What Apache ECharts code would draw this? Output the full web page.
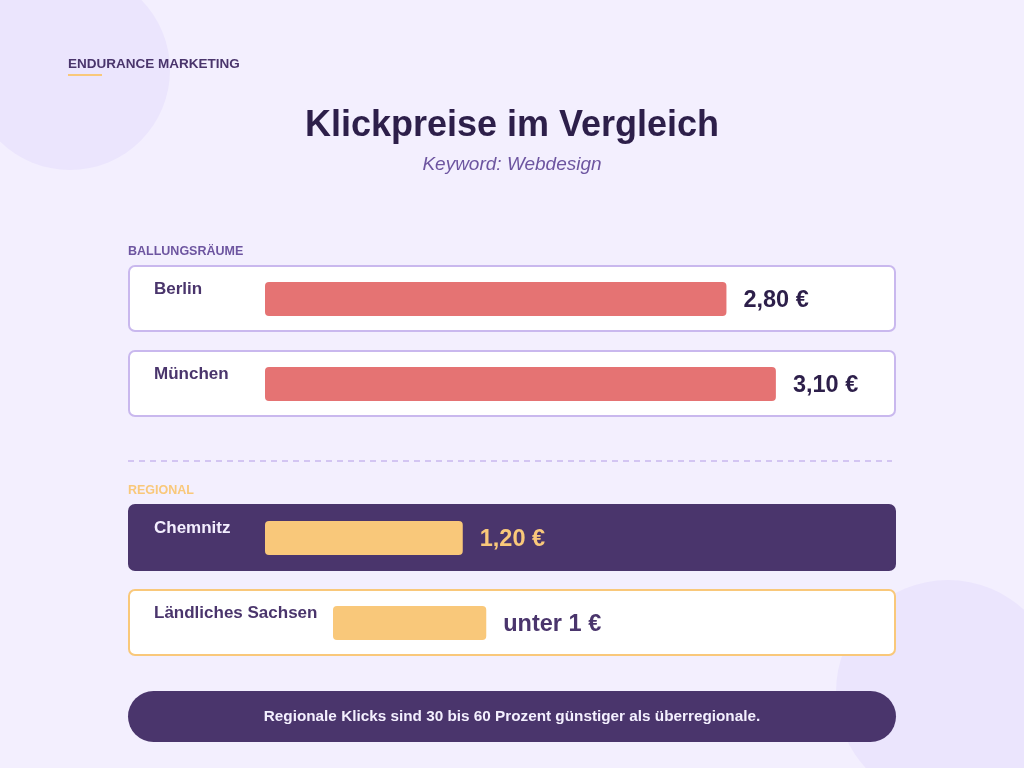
<!DOCTYPE html>
<html>
<head>
<meta charset="UTF-8">
<title>Klickpreise im Vergleich</title>
<script src="https://cdn.jsdelivr.net/npm/echarts@6/dist/echarts.min.js"></script>
<style>
  html, body { margin: 0; padding: 0; background: #f3effe; }
  #chart { width: 1024px; height: 768px; }
</style>
</head>
<body>
<div id="chart"></div>
<script type="text/javascript">
// Daten
var cities = ['Berlin', 'München', 'Chemnitz', 'Ländliches Sachsen'];
var prices = [2.80, 3.10, 1.20, 0.93];          // Euro pro Klick (letzter Wert geschätzt: "unter 1 €")
var priceLabels = ['2,80 €', '3,10 €', '1,20 €', 'unter 1 €'];
var groups = ['metro', 'metro', 'regional', 'regional'];

// Layout
var cardTop = [265, 350, 504, 589];
var barLeft = [265, 265, 265, 333];
var cardH = 67;
var barH = 34;
var scaleMax = 4;
var pxPerEuro = 164.8;

var purple = '#4a356c';
var dark = '#2d1f4a';
var red = '#e57373';
var yellow = '#f9c87a';
var lilac = '#c9b8ee';
var font = 'Liberation Sans, Arial, sans-serif';

var chart = echarts.init(document.getElementById('chart'));

var grids = [], xAxes = [], yAxes = [], series = [];
var graphics = [
  { type: 'circle', shape: { cx: 70, cy: 70, r: 100 }, style: { fill: '#ebe5fd' }, z: -20 },
  { type: 'circle', shape: { cx: 948, cy: 692, r: 112 }, style: { fill: '#ebe5fd' }, z: -20 },
  { type: 'text', z: 10, style: { x: 68, y: 64, text: 'ENDURANCE MARKETING', fill: purple,
      font: 'bold 13.5px ' + font, textVerticalAlign: 'middle' } },
  { type: 'rect', z: 10, shape: { x: 68, y: 74, width: 34, height: 2 }, style: { fill: yellow } },
  { type: 'text', z: 10, style: { x: 512, y: 126, text: 'Klickpreise im Vergleich', fill: dark,
      font: 'bold 36px ' + font, textAlign: 'center', textVerticalAlign: 'middle' } },
  { type: 'text', z: 10, style: { x: 512, y: 165, text: 'Keyword: Webdesign', fill: '#6d55a0',
      font: 'italic 19px ' + font, textAlign: 'center', textVerticalAlign: 'middle' } },
  { type: 'text', z: 10, style: { x: 128, y: 252, text: 'BALLUNGSRÄUME', fill: '#6d55a0',
      font: 'bold 12.5px ' + font, textVerticalAlign: 'middle' } },
  { type: 'line', z: 10, shape: { x1: 128, y1: 461, x2: 892, y2: 461 },
      style: { stroke: lilac, lineWidth: 1.5, lineDash: [6, 5] } },
  { type: 'text', z: 10, style: { x: 128, y: 491, text: 'REGIONAL', fill: yellow,
      font: 'bold 12.5px ' + font, textVerticalAlign: 'middle' } },
  { type: 'rect', z: -5, shape: { x: 128, y: 691, width: 768, height: 51, r: 25.5 }, style: { fill: purple } },
  { type: 'text', z: 10, style: { x: 512, y: 717, text: 'Regionale Klicks sind 30 bis 60 Prozent günstiger als überregionale.',
      fill: '#f3effe', font: 'bold 15.3px ' + font, textAlign: 'center', textVerticalAlign: 'middle' } }
];

cities.forEach(function (name, i) {
  var highlight = name === 'Chemnitz';
  var regional = groups[i] === 'regional';
  graphics.push({
    type: 'rect', z: -5,
    shape: { x: 129, y: cardTop[i] + 1, width: 766, height: cardH - 2, r: 6 },
    style: {
      fill: highlight ? purple : '#ffffff',
      stroke: highlight ? purple : (regional ? yellow : lilac),
      lineWidth: 2
    }
  });
  graphics.push({
    type: 'text', z: 10,
    style: { x: 154, y: cardTop[i] + 24, text: name, fill: highlight ? '#f3eefe' : purple,
      font: 'bold 17px ' + font, textVerticalAlign: 'middle' }
  });

  grids.push({ left: barLeft[i], top: cardTop[i] + 17, width: scaleMax * pxPerEuro, height: barH });
  xAxes.push({ type: 'value', gridIndex: i, min: 0, max: scaleMax, show: false });
  yAxes.push({ type: 'category', gridIndex: i, data: [name], show: false });
  series.push({
    type: 'bar',
    xAxisIndex: i,
    yAxisIndex: i,
    barWidth: barH,
    data: [prices[i]],
    itemStyle: { color: regional ? yellow : red, borderRadius: 4 },
    label: {
      show: true,
      position: 'right',
      distance: 17,
      offset: [0, 2],
      formatter: priceLabels[i],
      fontFamily: font,
      fontWeight: 'bold',
      fontSize: 23.5,
      color: highlight ? yellow : (regional ? purple : dark)
    },
    silent: true
  });
});

chart.setOption({
  backgroundColor: '#f3effe',
  animation: false,
  grid: grids,
  xAxis: xAxes,
  yAxis: yAxes,
  series: series,
  graphic: { elements: graphics }
});
</script>
</body>
</html>
